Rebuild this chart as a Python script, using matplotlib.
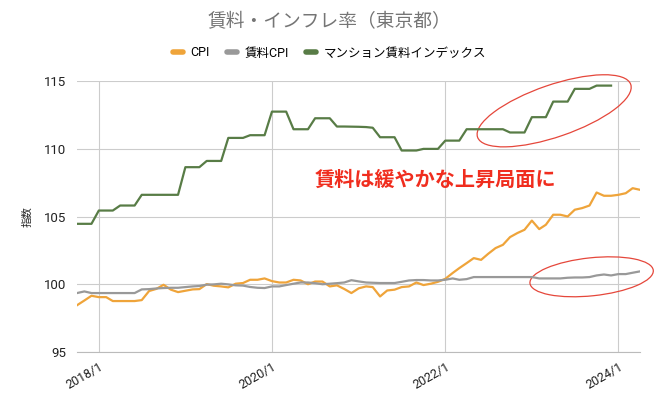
import matplotlib.pyplot as plt
import matplotlib.dates as mdates
import matplotlib.transforms as transforms
from matplotlib.patches import Ellipse
from matplotlib.lines import Line2D
import pandas as pd

plt.rcParams['font.family'] = ['Roboto', 'Noto Sans CJK JP', 'DejaVu Sans']

# 月次データ 2017/10 - 2024/4
months = pd.date_range('2017-10-01', '2024-04-01', freq='MS')

cpi = [98.45, 98.8, 99.15,
       99.05, 99.05, 98.76, 98.76, 98.76, 98.76, 98.83, 99.5, 99.66, 99.96, 99.6, 99.42,
       99.52, 99.62, 99.64, 100.01, 99.89, 99.84, 99.77, 100.04, 100.09, 100.33, 100.33, 100.43,
       100.23, 100.13, 100.13, 100.33, 100.28, 100.0, 100.2, 100.2, 99.84, 99.92, 99.65, 99.35,
       99.7, 99.84, 99.79, 99.1, 99.54, 99.6, 99.79, 99.84, 100.13, 99.94, 100.04, 100.18,
       100.4, 100.83, 101.19, 101.56, 101.93, 101.8, 102.25, 102.67, 102.91, 103.48, 103.78, 104.02,
       104.7, 104.07, 104.39, 105.13, 105.13, 105.0, 105.5, 105.62, 105.81, 106.77, 106.53, 106.53,
       106.6, 106.72, 107.09, 106.97]

rent_cpi = [99.35, 99.47, 99.35,
            99.35, 99.35, 99.35, 99.35, 99.35, 99.35, 99.62, 99.64, 99.69, 99.72, 99.74, 99.74,
            99.79, 99.84, 99.87, 99.97, 99.99, 100.04, 99.99, 99.92, 99.9, 99.8, 99.74, 99.72,
            99.84, 99.84, 99.94, 100.04, 100.13, 100.13, 100.08, 100.0, 100.04, 100.08, 100.13, 100.3,
            100.21, 100.13, 100.11, 100.09, 100.09, 100.09, 100.18, 100.28, 100.31, 100.31, 100.28, 100.28,
            100.33, 100.43, 100.33, 100.38, 100.53, 100.53, 100.53, 100.53, 100.53, 100.53, 100.53, 100.53,
            100.53, 100.43, 100.43, 100.43, 100.43, 100.48, 100.5, 100.5, 100.53, 100.65, 100.72, 100.65,
            100.75, 100.75, 100.85, 100.95]

# マンション賃料インデックス (2017/10 - 2023/12)
mansion_rent = [104.46, 104.46, 104.46,
                105.44, 105.44, 105.44, 105.81, 105.81, 105.81, 106.6, 106.6, 106.6, 106.6, 106.6, 106.6,
                108.64, 108.64, 108.64, 109.1, 109.1, 109.1, 110.8, 110.8, 110.8, 111.0, 111.0, 111.0,
                112.74, 112.74, 112.74, 111.44, 111.44, 111.44, 112.25, 112.25, 112.25, 111.64, 111.64, 111.63,
                111.62, 111.6, 111.55, 110.85, 110.85, 110.85, 109.87, 109.87, 109.87, 109.99, 109.99, 109.99,
                110.6, 110.6, 110.6, 111.44, 111.44, 111.44, 111.44, 111.44, 111.44, 111.2, 111.2, 111.2,
                112.33, 112.33, 112.33, 113.48, 113.48, 113.48, 114.42, 114.42, 114.42, 114.66, 114.66, 114.66]

series_names = ['CPI', '賃料CPI', 'マンション賃料インデックス']
colors = ['#efa43a', '#999999', '#587c46']

year_ticks = pd.to_datetime(['2018-01-01', '2020-01-01', '2022-01-01', '2024-01-01'])
year_labels = ['2018/1', '2020/1', '2022/1', '2024/1']
y_ticks = [95, 100, 105, 110, 115]

fig = plt.figure(figsize=(6.59, 4.03), dpi=100)
ax = fig.add_axes([77 / 659, 51 / 403, 563 / 659, 271 / 403])

ax.plot(months, cpi, color=colors[0], lw=1.6)
ax.plot(months, rent_cpi, color=colors[1], lw=1.6)
ax.plot(months[:len(mansion_rent)], mansion_rent, color=colors[2], lw=1.6)

ax.set_xlim(months[0], months[-1])
ax.set_ylim(95, 115)
ax.set_yticks(y_ticks)
ax.set_xticks(year_ticks)
ax.set_xticklabels(year_labels, rotation=30, ha='right', rotation_mode='anchor')
ax.tick_params(axis='both', length=0, colors='#222222')
ax.tick_params(axis='y', labelsize=9.5, pad=8)
ax.tick_params(axis='x', labelsize=9, pad=6)
ax.grid(True, color='#cccccc', lw=0.8)
ax.set_axisbelow(True)
for s in ['top', 'right', 'left']:
    ax.spines[s].set_visible(False)
ax.spines['bottom'].set_color('#bbbbbb')
ax.spines['bottom'].set_linewidth(0.8)

ax.set_ylabel('指数', fontsize=7.5, color='#222222')
ax.yaxis.set_label_coords(-(77 - 33) / 563, 0.5)

# タイトルと凡例
fig.text(0.5, 1 - 22 / 403, '賃料・インフレ率（東京都）', ha='center', va='center',
         fontsize=13.5, color='#757575')
handles = [Line2D([0], [0], color=c, lw=4, solid_capstyle='round') for c in colors]
fig.legend(handles, series_names, loc='center', bbox_to_anchor=(0.5, 1 - 53 / 403), ncol=3,
           frameon=False, fontsize=9, handlelength=0.8, handletextpad=0.6, columnspacing=1.4)

# 注釈
ax.text(0.636, 0.638, '賃料は緩やかな上昇局面に', transform=ax.transAxes, ha='center', va='center',
        fontsize=14.5, fontweight='bold', color='#f02d1e', family=['Noto Sans CJK JP'])


def draw_ellipse(date, value, w, h, angle):
    x = mdates.date2num(pd.Timestamp(date))
    tr = fig.dpi_scale_trans + transforms.ScaledTranslation(x, value, ax.transData)
    e = Ellipse((0, 0), w, h, angle=angle, fill=False, edgecolor='#e5473b', lw=0.9,
                transform=tr, clip_on=False)
    ax.add_patch(e)


draw_ellipse('2023-04-05', 112.8, 1.62, 0.52, 19)
draw_ellipse('2023-09-10', 100.55, 1.24, 0.38, 6)

fig.savefig('out.png', dpi=100)
